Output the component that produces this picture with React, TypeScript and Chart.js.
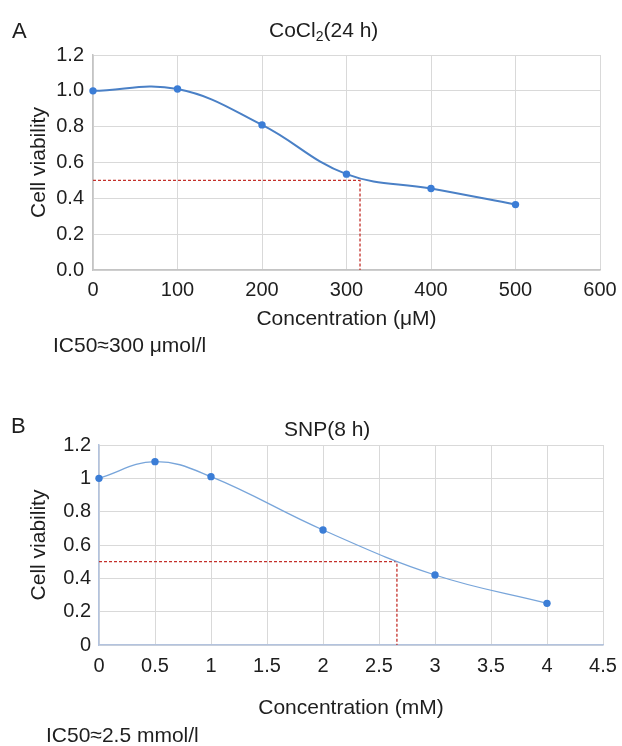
import React, { useEffect, useRef } from "react";
import { Chart, registerables } from "chart.js";

Chart.register(...registerables);

// ---- Data ----
const concA = [0, 100, 200, 300, 400, 500];
const viabA = [1.0, 1.01, 0.81, 0.535, 0.455, 0.365];
const ic50A = 316;

const concB = [0, 0.5, 1, 2, 3, 4];
const viabB = [1.0, 1.1, 1.01, 0.69, 0.42, 0.25];
const ic50B = 2.66;

const ic50Level = 0.5;

const FONT = "'Liberation Sans', Arial, Helvetica, sans-serif";
const TEXT = "#1e1e1e";
const GRID = "#d9d9d9";

type PanelCfg = {
  xs: number[];
  ys: number[];
  ic50: number;
  xMax: number;
  xStep: number;
  xTitle: string;
  yFmt: (v: number) => string;
  xFmt: (v: number) => string;
  lineColor: string;
  lineWidth: number;
  borderColor: string;
  yWidth: number;
  xHeight: number;
  xTickPad: number;
  yTickPad: number;
  pad: { top: number; right: number; bottom: number; left: number };
  yTitlePad: number;
};

function buildChart(canvas: HTMLCanvasElement, c: PanelCfg) {
  return new Chart(canvas, {
    type: "line",
    data: {
      datasets: [
        {
          data: c.xs.map((x, i) => ({ x, y: c.ys[i] })),
          borderColor: c.lineColor,
          borderWidth: c.lineWidth,
          tension: 0.4,
          pointRadius: 3.7,
          pointBackgroundColor: "#3b7dd6",
          pointBorderColor: "#3b7dd6",
          pointBorderWidth: 0,
          fill: false,
          clip: false,
        },
        {
          data: [
            { x: 0, y: ic50Level },
            { x: c.ic50, y: ic50Level },
            { x: c.ic50, y: 0 },
          ],
          borderColor: "#c4302b",
          borderWidth: 1.3,
          borderDash: [3, 2],
          tension: 0,
          pointRadius: 0,
          fill: false,
        },
      ],
    },
    options: {
      responsive: false,
      animation: false,
      devicePixelRatio: 1,
      layout: { padding: c.pad },
      plugins: {
        legend: { display: false },
        tooltip: { enabled: false },
        title: { display: false },
      },
      scales: {
        x: {
          type: "linear",
          min: 0,
          max: c.xMax,
          afterFit: (s: any) => {
            s.height = c.xHeight;
            s.paddingLeft = 0;
            s.paddingRight = 0;
          },
          ticks: {
            stepSize: c.xStep,
            color: TEXT,
            padding: c.xTickPad,
            maxRotation: 0,
            autoSkip: false,
            font: { family: FONT, size: 20 },
            callback: (v: any) => c.xFmt(Number(v)),
          },
          grid: { color: GRID, lineWidth: 1, drawTicks: false },
          border: { color: c.borderColor, width: 1.5 },
          title: {
            display: true,
            text: c.xTitle,
            color: TEXT,
            font: { family: FONT, size: 21 },
            padding: { top: 0, bottom: 0 },
          },
        },
        y: {
          type: "linear",
          min: 0,
          max: 1.2,
          afterFit: (s: any) => {
            s.width = c.yWidth;
            s.paddingTop = 0;
            s.paddingBottom = 0;
          },
          ticks: {
            stepSize: 0.2,
            color: TEXT,
            padding: c.yTickPad,
            autoSkip: false,
            font: { family: FONT, size: 20 },
            callback: (v: any) => c.yFmt(Number(v)),
          },
          grid: { color: GRID, lineWidth: 1, drawTicks: false },
          border: { color: c.borderColor, width: 1.5 },
          title: {
            display: true,
            text: "Cell viability",
            color: TEXT,
            font: { family: FONT, size: 21 },
            padding: { top: c.yTitlePad, bottom: 0 },
          },
        },
      },
    },
  });
}

const cfgA: PanelCfg = {
  xs: concA,
  ys: viabA,
  ic50: ic50A,
  xMax: 600,
  xStep: 100,
  xTitle: "Concentration (\u03bcM)",
  yFmt: (v) => v.toFixed(1),
  xFmt: (v) => String(Math.round(v)),
  lineColor: "#4a80c6",
  lineWidth: 2,
  borderColor: "#c4c4c4",
  yWidth: 93,
  xHeight: 62,
  xTickPad: 8,
  yTickPad: 9,
  pad: { top: 55, right: 22, bottom: 38, left: 0 },
  yTitlePad: 27,
};

const cfgB: PanelCfg = {
  xs: concB,
  ys: viabB,
  ic50: ic50B,
  xMax: 4.5,
  xStep: 0.5,
  xTitle: "Concentration (mM)",
  yFmt: (v) => String(Number(v.toFixed(1))),
  xFmt: (v) => String(Number(v.toFixed(1))),
  lineColor: "#78a5da",
  lineWidth: 1.3,
  borderColor: "#b3c3de",
  yWidth: 99,
  xHeight: 76,
  xTickPad: 9,
  yTickPad: 8,
  pad: { top: 75, right: 19, bottom: 25, left: 0 },
  yTitlePad: 27,
};

function Panel({ cfg, top, height }: { cfg: PanelCfg; top: number; height: number }) {
  const ref = useRef<HTMLCanvasElement | null>(null);
  useEffect(() => {
    if (!ref.current) return;
    const ch = buildChart(ref.current, cfg);
    return () => ch.destroy();
  }, [cfg]);
  return (
    <canvas
      ref={ref}
      width={622}
      height={height}
      style={{ position: "absolute", left: 0, top, width: 622, height }}
    />
  );
}

const txt = (extra: React.CSSProperties): React.CSSProperties => ({
  position: "absolute",
  fontFamily: FONT,
  color: TEXT,
  fontSize: 21,
  lineHeight: "24px",
  whiteSpace: "nowrap",
  ...extra,
});

export default function App() {
  return (
    <div
      style={{
        position: "absolute",
        left: 0,
        top: 0,
        width: 622,
        height: 746,
        background: "#fff",
        overflow: "hidden",
      }}
    >
      <Panel cfg={cfgA} top={0} height={370} />
      <Panel cfg={cfgB} top={370} height={376} />
      <div style={txt({ left: 12, top: 18, fontSize: 22, lineHeight: "26px" })}>A</div>
      <div style={txt({ left: 269, top: 18 })}>
        CoCl<sub style={{ fontSize: 14, verticalAlign: "-4px", lineHeight: 0 }}>2</sub>(24 h)
      </div>
      <div style={txt({ left: 53, top: 333 })}>IC50≈300 μmol/l</div>
      <div style={txt({ left: 11, top: 413, fontSize: 22, lineHeight: "26px" })}>B</div>
      <div style={txt({ left: 284, top: 417 })}>SNP(8 h)</div>
      <div style={txt({ left: 46, top: 723 })}>IC50≈2.5 mmol/l</div>
    </div>
  );
}
